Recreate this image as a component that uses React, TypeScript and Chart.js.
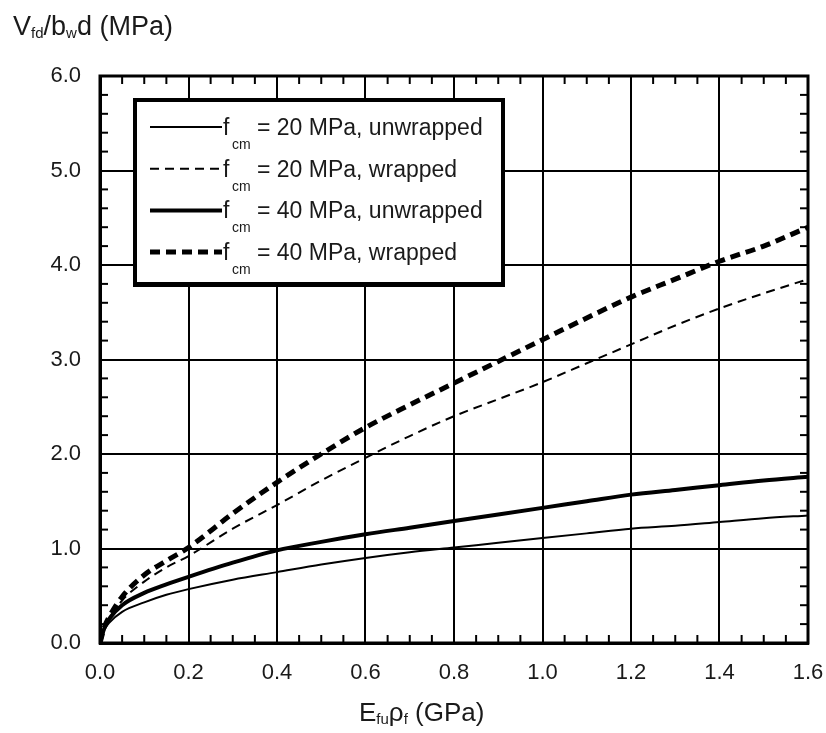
import React, { useEffect, useRef } from "react";
import { Chart, registerables } from "chart.js";

Chart.register(...registerables);

// E_fu * rho_f (GPa)
const xValues = [0, 0.01, 0.02, 0.05, 0.1, 0.15, 0.2, 0.3, 0.4, 0.5, 0.6, 0.7, 0.8, 0.9, 1.0, 1.1, 1.2, 1.3, 1.4, 1.5, 1.6];
// V_fd / b_w d (MPa)
const fcm20Unwrapped = [0, 0.14, 0.21, 0.33, 0.43, 0.51, 0.57, 0.67, 0.75, 0.83, 0.9, 0.96, 1.01, 1.06, 1.11, 1.16, 1.21, 1.24, 1.28, 1.32, 1.35];
const fcm20Wrapped = [0, 0.16, 0.25, 0.45, 0.65, 0.8, 0.92, 1.21, 1.46, 1.72, 1.96, 2.19, 2.4, 2.58, 2.76, 2.96, 3.16, 3.36, 3.54, 3.7, 3.85];
const fcm40Unwrapped = [0, 0.16, 0.25, 0.4, 0.53, 0.62, 0.7, 0.85, 0.98, 1.07, 1.15, 1.22, 1.29, 1.36, 1.43, 1.5, 1.57, 1.62, 1.67, 1.72, 1.76];
const fcm40Wrapped = [0, 0.17, 0.27, 0.49, 0.72, 0.87, 1.01, 1.37, 1.7, 2.0, 2.28, 2.52, 2.75, 2.98, 3.21, 3.44, 3.66, 3.85, 4.04, 4.2, 4.4];

const legendSymbol = "f";
const legendSub = "cm";
const legendTexts = ["= 20 MPa, unwrapped", "= 20 MPa, wrapped", "= 40 MPa, unwrapped", "= 40 MPa, wrapped"];

const xTicks = [0, 0.2, 0.4, 0.6, 0.8, 1.0, 1.2, 1.4, 1.6];
const yTicks = [0, 1, 2, 3, 4, 5, 6];

const FONT = "'Liberation Sans', Arial, sans-serif";

const framePlugin = {
  id: "frameAndLegend",
  afterDatasetsDraw(chart: any) {
    const { ctx, chartArea, scales } = chart;
    const { left, right, top, bottom } = chartArea;
    const xs = scales.x;
    const ys = scales.y;
    ctx.save();
    ctx.strokeStyle = "#000";
    ctx.lineCap = "butt";
    const line = (x1: number, y1: number, x2: number, y2: number) => {
      ctx.beginPath();
      ctx.moveTo(x1, y1);
      ctx.lineTo(x2, y2);
      ctx.stroke();
    };
    // minor ticks (inward)
    ctx.lineWidth = 2;
    for (let i = 1; i < 32; i++) {
      if (i % 4 === 0) continue;
      const px = xs.getPixelForValue(i * 0.05);
      line(px, bottom, px, bottom - 8);
      line(px, top, px, top + 8);
    }
    for (let i = 1; i < 30; i++) {
      if (i % 5 === 0) continue;
      const py = ys.getPixelForValue(i * 0.2);
      line(left, py, left + 8, py);
      line(right, py, right - 8, py);
    }
    // frame
    ctx.lineWidth = 3;
    ctx.strokeRect(left, top, right - left, bottom - top);

    // legend box
    const bx = left + 35;
    const by = top + 24;
    const bw = 368;
    const bh = 184;
    ctx.fillStyle = "#fff";
    ctx.fillRect(bx, by, bw, bh);
    ctx.lineWidth = 4;
    ctx.strokeRect(bx, by, bw, bh);
    ctx.fillStyle = "#000";
    ctx.fillRect(bx - 2, by + bh, bw + 4, 3);

    chart.data.datasets.forEach((ds: any, i: number) => {
      const ly = by + 27 + i * 41.7;
      ctx.save();
      ctx.strokeStyle = "#000";
      ctx.lineWidth = ds.borderWidth;
      ctx.setLineDash(ds.borderDash || []);
      line(bx + 15, ly, bx + 87, ly);
      ctx.restore();
      ctx.fillStyle = "#1a1a1a";
      ctx.textBaseline = "alphabetic";
      ctx.textAlign = "left";
      ctx.font = `23px ${FONT}`;
      ctx.fillText(legendSymbol, bx + 88, ly + 8);
      ctx.font = `14px ${FONT}`;
      ctx.fillText(legendSub, bx + 97, ly + 22);
      ctx.font = `23px ${FONT}`;
      ctx.fillText(legendTexts[i], bx + 122, ly + 8);
    });
    ctx.restore();
  },
};

export default function App() {
  const canvasRef = useRef<HTMLCanvasElement>(null);

  useEffect(() => {
    const canvas = canvasRef.current;
    if (!canvas) return;
    const mk = (ys: number[]) => xValues.map((x, i) => ({ x, y: ys[i] }));
    const chart = new Chart(canvas, {
      type: "line",
      data: {
        datasets: [
          { label: "fcm = 20 MPa, unwrapped", data: mk(fcm20Unwrapped), borderColor: "#000", borderWidth: 2, borderDash: [], pointRadius: 0, cubicInterpolationMode: "monotone" },
          { label: "fcm = 20 MPa, wrapped", data: mk(fcm20Wrapped), borderColor: "#000", borderWidth: 2, borderDash: [9, 6], pointRadius: 0, cubicInterpolationMode: "monotone" },
          { label: "fcm = 40 MPa, unwrapped", data: mk(fcm40Unwrapped), borderColor: "#000", borderWidth: 4, borderDash: [], pointRadius: 0, cubicInterpolationMode: "monotone" },
          { label: "fcm = 40 MPa, wrapped", data: mk(fcm40Wrapped), borderColor: "#000", borderWidth: 5, borderDash: [10, 6], pointRadius: 0, cubicInterpolationMode: "monotone" },
        ] as any,
      },
      options: {
        animation: false,
        responsive: false,
        layout: { padding: { left: 0, top: 76, right: 18, bottom: 0 } },
        plugins: { legend: { display: false }, tooltip: { enabled: false } },
        scales: {
          x: {
            type: "linear",
            min: 0,
            max: 1.6,
            afterBuildTicks: (s: any) => {
              s.ticks = xTicks.map((v) => ({ value: v }));
            },
            afterFit: (s: any) => {
              s.height = 90;
              s.paddingLeft = 0;
              s.paddingRight = 0;
            },
            ticks: {
              padding: 17,
              color: "#1a1a1a",
              font: { family: FONT, size: 22 },
              callback: (v: any) => Number(v).toFixed(1),
            },
            grid: { color: "#000", lineWidth: 2, drawTicks: false },
            border: { display: true, color: "#000", width: 3 },
          },
          y: {
            type: "linear",
            min: 0,
            max: 6,
            afterBuildTicks: (s: any) => {
              s.ticks = yTicks.map((v) => ({ value: v }));
            },
            afterFit: (s: any) => {
              s.width = 100;
              s.paddingTop = 0;
              s.paddingBottom = 0;
            },
            ticks: {
              padding: 19,
              color: "#1a1a1a",
              font: { family: FONT, size: 22 },
              callback: (v: any) => Number(v).toFixed(1),
            },
            grid: { color: "#000", lineWidth: 2, drawTicks: false },
            border: { display: true, color: "#000", width: 3 },
          },
        },
      },
      plugins: [framePlugin],
    });
    return () => chart.destroy();
  }, []);

  return (
    <div style={{ position: "absolute", left: 0, top: 0, width: 826, height: 733, background: "#fff", fontFamily: FONT, color: "#1a1a1a" }}>
      <canvas ref={canvasRef} width={826} height={733} style={{ position: "absolute", left: 0, top: 0 }} />
      <div style={{ position: "absolute", left: 13, top: 13, fontSize: 27, lineHeight: "27px", whiteSpace: "nowrap" }}>
        V<span style={{ fontSize: 15, position: "relative", top: 3 }}>fd</span>/b<span style={{ fontSize: 15, position: "relative", top: 3 }}>w</span>d (MPa)
      </div>
      <div style={{ position: "absolute", left: 359, top: 699, fontSize: 26, lineHeight: "26px", whiteSpace: "nowrap" }}>
        E<span style={{ fontSize: 15, position: "relative", top: 3 }}>fu</span>ρ<span style={{ fontSize: 15, position: "relative", top: 3 }}>f</span> (GPa)
      </div>
    </div>
  );
}
